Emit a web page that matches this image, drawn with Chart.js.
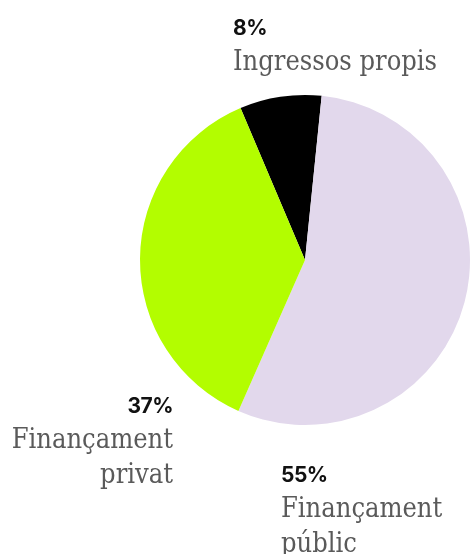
<!DOCTYPE html>
<html>
<head>
<meta charset="utf-8">
<script src="https://cdn.jsdelivr.net/npm/chart.js@4"></script>
<style>
  html, body { margin: 0; padding: 0; background: #ffffff; }
  #wrap { position: relative; width: 472px; height: 554px; }
</style>
</head>
<body>
<div id="wrap"><canvas id="c" width="472" height="554"></canvas></div>
<script>
// ---- data ----
const categories = ["Ingressos propis", "Finançament públic", "Finançament privat"];
const shares = [8, 55, 37];
const percentLabels = ["8%", "55%", "37%"];
const labelLines = [["Ingressos propis"], ["Finançament", "públic"], ["Finançament", "privat"]];

// ---- styles ----
const sliceColors = ["#000000", "#e2d8ec", "#b3fd00"];
const labelPlacement = [
  { x: 233, y: 35, align: "left" },
  { x: 281, y: 482, align: "left" },
  { x: 173, y: 413, align: "right" }
];

const labelPlugin = {
  id: "sliceLabels",
  afterDraw(chart) {
    const ctx = chart.ctx;
    ctx.save();
    ctx.textBaseline = "alphabetic";
    labelPlacement.forEach((p, i) => {
      ctx.textAlign = p.align;
      ctx.fillStyle = "#111111";
      ctx.font = "bold 21px Inter";
      if ("letterSpacing" in ctx) ctx.letterSpacing = "-0.5px";
      ctx.fillText(percentLabels[i], p.x, p.y);
      if ("letterSpacing" in ctx) ctx.letterSpacing = "0px";
      ctx.fillStyle = "#5a5a5a";
      ctx.font = "27px 'DejaVu Serif Condensed', 'DejaVu Serif'";
      labelLines[i].forEach((line, j) => {
        ctx.fillText(line, p.x, p.y + 35 + j * 35);
      });
    });
    ctx.restore();
  }
};

new Chart(document.getElementById("c"), {
  type: "pie",
  data: {
    labels: categories,
    datasets: [{
      data: shares,
      backgroundColor: sliceColors,
      borderWidth: 0
    }]
  },
  options: {
    responsive: false,
    animation: false,
    rotation: -23,
    layout: { padding: { left: 140, right: 2, top: 95, bottom: 129 } },
    plugins: { legend: { display: false }, tooltip: { enabled: false } }
  },
  plugins: [labelPlugin]
});
</script>
</body>
</html>
